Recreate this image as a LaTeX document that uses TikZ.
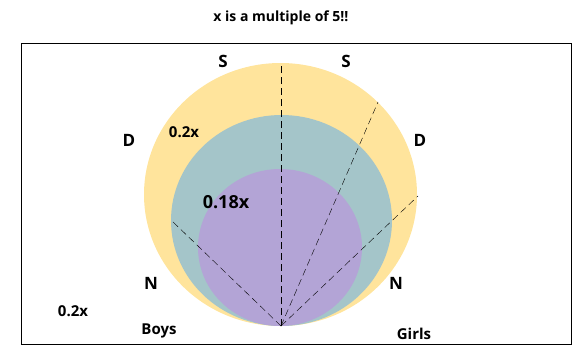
\documentclass[tikz,border=0pt]{standalone}
\usepackage{fontspec}
\setmainfont{Open Sans}
\definecolor{sand}{HTML}{FFE49C}
\definecolor{seagrey}{HTML}{A4C5C9}
\definecolor{lilac}{HTML}{B3A4D6}
\tikzset{lbl/.style={font=\bfseries\fontsize{17}{19}\selectfont},
  small/.style={font=\bfseries\fontsize{15}{17}\selectfont},
  cut/.style={dash pattern=on 7pt off 4pt}}
\begin{document}
\begin{tikzpicture}[x=1pt,y=-1pt]
\useasboundingbox (0,0) rectangle (585,361);

\fill[sand] (280.5,194.5) ellipse (136.5 and 131.5);
\fill[seagrey] (281.5,220.5) ellipse (110.5 and 105.5);
\fill[lilac] (280,247.5) ellipse (82 and 78.5);
\draw[line width=1pt] (21.5,43.5) rectangle (571.5,344.5);

\coordinate (v0) at (281,326);
\coordinate (v1) at (281,63);
\coordinate (v2) at (378,102);
\coordinate (v3) at (418,196);
\coordinate (v4) at (171,220);
\draw[cut] (v0) -- (v1);
\draw[cut] (v0) -- (v2);
\draw[cut] (v0) -- (v3);
\draw[cut] (v0) -- (v4);

\node[font=\bfseries\fontsize{14}{16}\selectfont] (t) at (281,18) {x is a multiple of 5!!};
\node[lbl] (s1) at (223,61) {S};
\node[lbl] (s2) at (346,61) {S};
\node[lbl] (d1) at (129,140) {D};
\node[lbl] (d2) at (420,140) {D};
\node[lbl] (n1) at (151,283) {N};
\node[lbl] (n2) at (396,283) {N};
\node[small] (a) at (184,132) {0.2x};
\node[font=\bfseries\fontsize{18}{20}\selectfont] (b) at (226,202) {0.18x};
\node[small] (c) at (73,311) {0.2x};
\node[small] (boys) at (159,331) {Boys};
\node[small] (girls) at (414,334) {Girls};
\end{tikzpicture}
\end{document}
